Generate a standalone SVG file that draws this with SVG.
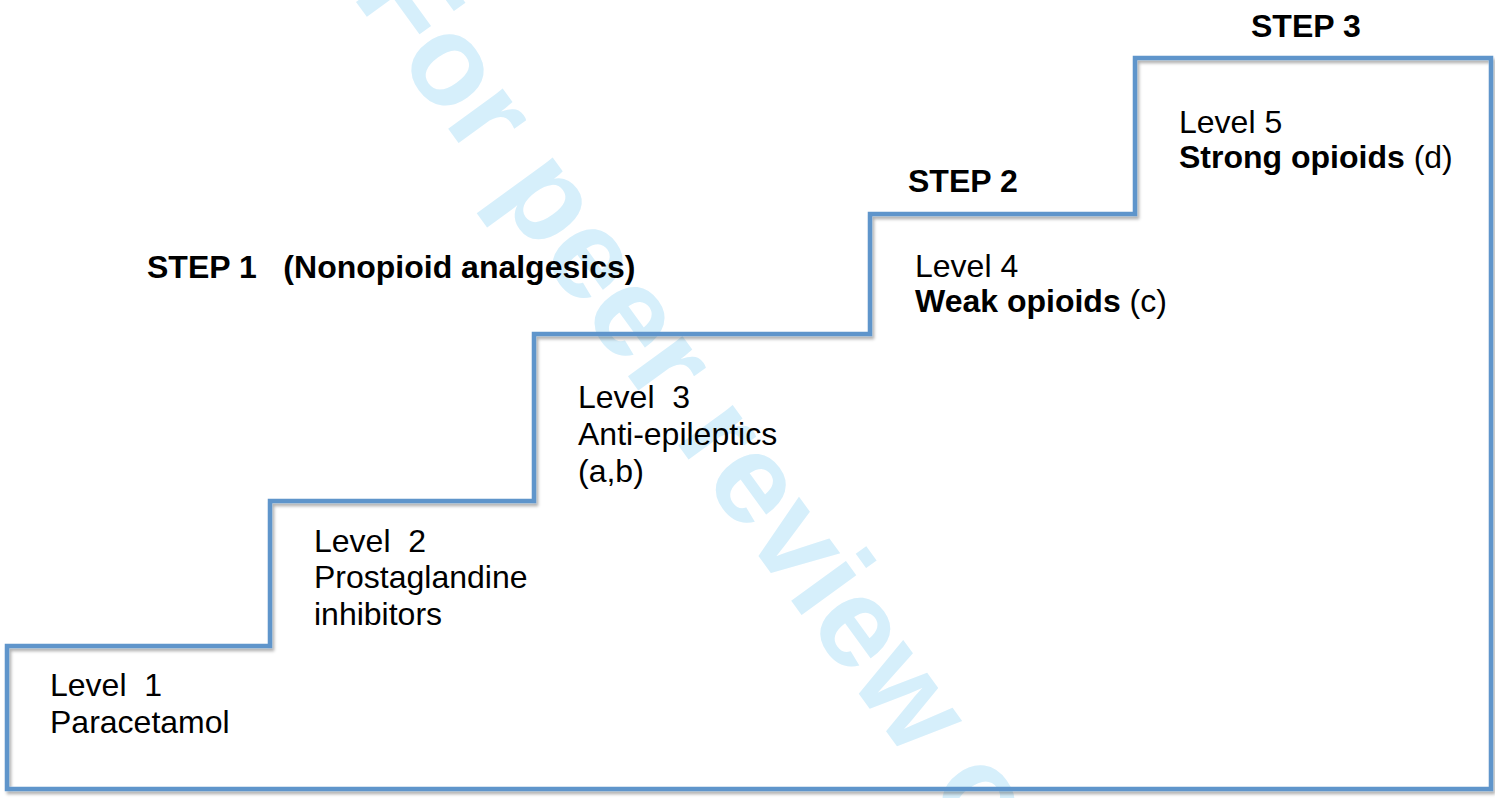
<svg xmlns="http://www.w3.org/2000/svg" width="1495" height="798" viewBox="0 0 1495 798">
<style>
text{font-family:"Liberation Sans",Arial,Helvetica,sans-serif;font-size:32px;fill:#000}
.b{font-weight:bold}
.wm{font-family:"Liberation Sans",Arial,sans-serif;font-weight:bold;font-size:128px;fill:#d6effb}
.stair{fill:none;stroke:#5e95cb;stroke-width:4.5;stroke-linejoin:miter}
</style>
<defs>
<filter id="sh" x="-5%" y="-5%" width="110%" height="110%">
<feDropShadow dx="2" dy="3" stdDeviation="1.5" flood-color="#000" flood-opacity="0.3"/>
</filter>
</defs>
<rect width="1495" height="798" fill="#fff"/>
<g id="watermark">
<text class="wm" transform="translate(351,-5) rotate(54)">For peer review only</text>
</g>
<g id="connectors">
<path class="stair" filter="url(#sh)" d="M7,646 L270,646 L270,501 L534,501 L534,334 L870,334 L870,214 L1135,214 L1135,58 L1491,58 L1491,789 L7,789 Z"/>
</g>
<g id="step1">
<text class="b" x="147" y="278" style="white-space:pre">STEP 1   (Nonopioid analgesics)</text>
</g>
<g id="step2">
<text class="b" x="908" y="192">STEP 2</text>
</g>
<g id="step3">
<text class="b" x="1251" y="37">STEP 3</text>
</g>
<g id="level1">
<text x="50" y="696" style="white-space:pre">Level  1</text>
<text x="50" y="733">Paracetamol</text>
</g>
<g id="level2">
<text x="314" y="552" style="white-space:pre">Level  2</text>
<text x="314" y="588">Prostaglandine</text>
<text x="314" y="625">inhibitors</text>
</g>
<g id="level3">
<text x="578" y="408" style="white-space:pre">Level  3</text>
<text x="578" y="445">Anti-epileptics</text>
<text x="578" y="482">(a,b)</text>
</g>
<g id="level4">
<text x="915" y="277">Level 4</text>
<text x="915" y="312"><tspan class="b">Weak opioids</tspan> (c)</text>
</g>
<g id="level5">
<text x="1179" y="133">Level 5</text>
<text x="1179" y="168"><tspan class="b">Strong opioids</tspan> (d)</text>
</g>
</svg>
